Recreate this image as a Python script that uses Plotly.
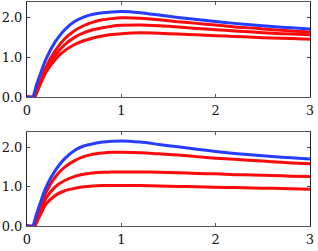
import plotly.graph_objects as go
from plotly.subplots import make_subplots

x = [0, 0.06, 0.1, 0.2, 0.3, 0.4, 0.5, 0.6, 0.7, 0.8, 0.9, 1.0,
     1.2, 1.4, 1.6, 1.8, 2.0, 2.2, 2.4, 2.6, 2.8, 3.0]
x_red = [0, 0.08, 0.1, 0.2, 0.3, 0.4, 0.5, 0.6, 0.7, 0.8, 0.9, 1.0,
         1.2, 1.4, 1.6, 1.8, 2.0, 2.2, 2.4, 2.6, 2.8, 3.0]

top_blue = [0, 0, 0.3, 0.95, 1.4, 1.7, 1.9, 2.02, 2.09, 2.13, 2.15, 2.16,
            2.13, 2.07, 2.01, 1.96, 1.91, 1.86, 1.82, 1.78, 1.75, 1.72]
top_red = [
    [0, 0, 0.12, 0.75, 1.17, 1.47, 1.67, 1.8, 1.89, 1.95, 1.98, 2.0,
     1.99, 1.95, 1.9, 1.86, 1.82, 1.77, 1.74, 1.7, 1.67, 1.64],
    [0, 0, 0.11, 0.68, 1.05, 1.32, 1.5, 1.62, 1.7, 1.75, 1.79, 1.81,
     1.82, 1.8, 1.77, 1.73, 1.7, 1.67, 1.64, 1.61, 1.59, 1.57],
    [0, 0, 0.1, 0.62, 0.95, 1.17, 1.32, 1.42, 1.49, 1.54, 1.58, 1.6,
     1.62, 1.61, 1.59, 1.57, 1.55, 1.53, 1.51, 1.49, 1.48, 1.46],
]

bot_blue = [0, 0, 0.3, 0.98, 1.42, 1.72, 1.92, 2.04, 2.1, 2.14, 2.16, 2.17,
            2.14, 2.08, 2.02, 1.96, 1.9, 1.85, 1.81, 1.77, 1.74, 1.71]
bot_red = [
    [0, 0, 0.12, 0.85, 1.25, 1.5, 1.66, 1.77, 1.83, 1.86, 1.88, 1.88,
     1.87, 1.84, 1.81, 1.77, 1.73, 1.7, 1.67, 1.64, 1.61, 1.59],
    [0, 0, 0.1, 0.7, 1.0, 1.16, 1.26, 1.32, 1.35, 1.37, 1.38, 1.38,
     1.38, 1.37, 1.36, 1.34, 1.33, 1.31, 1.3, 1.29, 1.27, 1.26],
    [0, 0, 0.08, 0.55, 0.78, 0.9, 0.96, 1.0, 1.02, 1.03, 1.03, 1.03,
     1.03, 1.02, 1.01, 1.0, 0.99, 0.98, 0.97, 0.96, 0.95, 0.94],
]

x_ticks = [0, 1, 2, 3]
y_ticks = [0.0, 1.0, 2.0]

BLUE = "rgb(40,60,255)"
RED = "rgb(250,10,10)"

fig = make_subplots(rows=2, cols=1)

for row, blue, reds in [(1, top_blue, top_red), (2, bot_blue, bot_red)]:
    for r in reds:
        fig.add_trace(go.Scatter(x=x_red, y=r, mode="lines",
                                 line=dict(color=RED, width=3, shape="spline", smoothing=0.6),
                                 showlegend=False, hoverinfo="skip"), row=row, col=1)
    fig.add_trace(go.Scatter(x=x, y=blue, mode="lines",
                             line=dict(color=BLUE, width=3, shape="spline", smoothing=0.6),
                             showlegend=False, hoverinfo="skip"), row=row, col=1)

font = dict(family="DejaVu Serif", size=13, color="#111")
axis_common = dict(showgrid=False, zeroline=False, showline=True, mirror="ticks",
                   ticks="inside", ticklen=3, tickwidth=1, tickfont=font,
                   ticklabeloverflow="allow")

fig.update_layout(
    width=318, height=251,
    margin=dict(l=27, r=8, t=2, b=25),
    paper_bgcolor="white", plot_bgcolor="white",
    showlegend=False,
    font=font,
)
fig.update_xaxes(range=[0, 3], tickvals=x_ticks, ticktext=[str(v) for v in x_ticks],
                 linecolor="#555", tickcolor="#555", ticklabelstandoff=1, **axis_common)
fig.update_yaxes(range=[0, 2.4], tickvals=y_ticks, ticktext=[f"{v:.1f}" for v in y_ticks],
                 linecolor="#222", tickcolor="#444", ticklabelstandoff=1, **axis_common)
fig.update_layout(yaxis=dict(domain=[0.576, 1.0]), yaxis2=dict(domain=[0.0, 0.42]))

fig.write_html("out.html", config={"displayModeBar": False},
               post_script="document.body.style.margin='0';document.body.style.overflow='hidden';")
